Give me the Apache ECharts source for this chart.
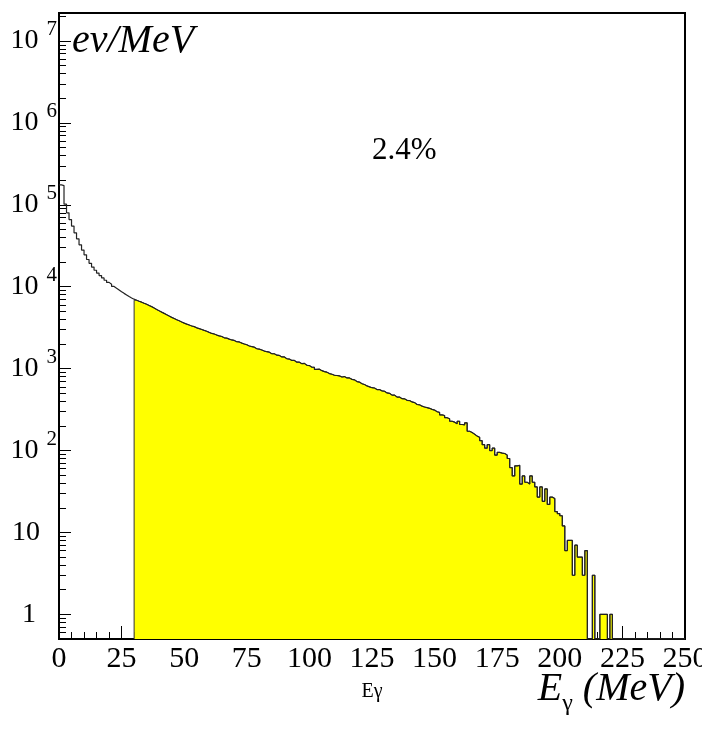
<!DOCTYPE html>
<html><head><meta charset="utf-8">
<script src="https://cdn.jsdelivr.net/npm/echarts@6/dist/echarts.min.js"></script>
<style>html,body{margin:0;padding:0;background:#fff;overflow:hidden}#c{width:702px;height:742px}</style>
</head><body><div id="c"></div>
<script>
// Histogram: counts per 1 MeV bin, bins 0..249 MeV (E_gamma)
const binEdgesStart = 0;
const binWidth = 1;
const counts = [
  175000,172000,102000,80000,66000,55000,45500,38500,32500,28000,   // 0-9
  24500,21500,19300,17400,15900,14700,13700,12800,12000,11300,      // 10-19
  10700,10100,9600,9150,8700,8300,7950,7600,7300,7050,              // 20-29
  6850,6650,6480,6280,6120,5900,5720,5500,5280,5080,                // 30-39
  4900,4730,4560,4390,4230,4100,3960,3840,3710,3600,                // 40-49
  3500,3410,3320,3260,3150,3080,3010,2930,2860,2770,                // 50-59
  2690,2650,2570,2510,2470,2380,2360,2290,2240,2210,                // 60-69
  2130,2120,2050,2000,1960,1890,1860,1830,1750,1730,                // 70-79
  1690,1640,1610,1590,1520,1520,1460,1450,1390,1390,                // 80-89
  1320,1310,1260,1260,1200,1200,1150,1160,1100,1090,                // 90-99
  1040,1040,980,985,945,920,905,870,855,830,                        // 100-109
  825,815,790,800,770,770,740,730,695,685,                          // 110-119
  655,640,615,600,585,580,555,555,535,530,                          // 120-129
  505,500,475,475,450,450,430,428,410,408,                          // 130-139
  392,385,365,362,348,340,334,328,318,312,                          // 140-149
  298,292,272,268,252,244,228,222,212,228,                          // 150-159
  208,206,218,172,166,158,150,145,132,118,                          // 160-169
  107,118,100,107,88,95,93,92,88,80,                                // 170-179
  62,49,65,66,39,49,41,39,49,41,                                    // 180-189
  36,27,36,24,34,22,27,26,18,17,                                    // 190-199
  16,12,6,8,8,3,7,5,5,3,                                            // 200-209
  6,0,0,3,0,0,1,1,1,0,                                              // 210-219
  1,0,0,0,0,0,0,0,0,0,                                              // 220-229
  0,0,0,0,0,0,0,0,0,0,                                              // 230-239
  0,0,0,0,0,0,0,0,0,0                                               // 240-249
];
const fillFrom = 30;            // MeV, shaded (yellow) region start
const xMin = 0, xMax = 250, xStep = 25;
const yMin = 0.5, yMax = 2.2e7;
const yMajorTicks = [1, 10, 100, 1000, 10000, 100000, 1000000, 10000000];
const yMinorMantissas = [2, 3, 4, 5, 6, 7, 8, 9];
const yAxisTitle = 'ev/MeV';
const xAxisName = 'E\u03b3';
const annotation = '2.4%';

// minor tick values of the log axis (2..9 x 10^n)
const yMinorTicks = [];
for (let e = -1; e <= 7; e++) {
  for (const m of yMinorMantissas) {
    const v = m * Math.pow(10, e);
    if (v > yMin && v < yMax) yMinorTicks.push(v);
  }
}

// histogram step points: left bin edges + closing right edge; empty bins drawn at frame bottom
const shown = v => (v > 0 ? v : yMin);
const outline = counts.map((v, i) => [binEdgesStart + i * binWidth, shown(v)]);
outline.push([binEdgesStart + counts.length * binWidth, shown(counts[counts.length - 1])]);
const fillPts = [[fillFrom, yMin]];
counts.forEach((v, i) => {
  const x = binEdgesStart + i * binWidth;
  if (x >= fillFrom) fillPts.push([x, shown(v)]);
});
fillPts.push([binEdgesStart + counts.length * binWidth, shown(counts[counts.length - 1])]);

const serifName = 'Liberation Serif';
const chart = echarts.init(document.getElementById('c'), null, {renderer: 'canvas'});
chart.setOption({
  animation: false,
  backgroundColor: '#fff',
  grid: {left: 59, top: 13, right: 17, bottom: 103, show: true, borderColor: '#000', borderWidth: 2,
         backgroundColor: '#fff', containLabel: false, outerBoundsMode: 'none'},
  xAxis: {
    type: 'value', min: xMin, max: xMax, interval: xStep,
    name: xAxisName, nameLocation: 'middle', nameGap: 43,
    nameTextStyle: {fontFamily: serifName, fontSize: 20, color: '#000'},
    axisLine: {show: true, onZero: false, lineStyle: {color: '#000', width: 2}},
    axisTick: {show: true, inside: true, length: 13, lineStyle: {color: '#000', width: 1}},
    minorTick: {show: true, splitNumber: 5, length: 7, lineStyle: {color: '#000', width: 1}},
    axisLabel: {fontFamily: serifName, fontSize: 30, color: '#000', margin: 5, showMaxLabel: true, showMinLabel: true, hideOverlap: false},
    splitLine: {show: false}
  },
  yAxis: [{
    type: 'log', logBase: 10, min: yMin, max: yMax,
    axisLine: {show: true, lineStyle: {color: '#000', width: 2}},
    axisTick: {show: true, inside: true, length: 12, lineStyle: {color: '#000', width: 1}},
    axisLabel: {
      customValues: yMajorTicks, margin: 2, color: '#000',
      formatter: v => {
        const n = Math.round(Math.log10(v));
        if (n === 0) return '{one|1}';
        if (n === 1) return '{ten|10}';
        return '{b|10}{e|' + n + '}';
      },
      rich: {
        b: {fontFamily: serifName, fontSize: 28, lineHeight: 30, padding: [7, 0, 7, 0], color: '#000'},
        e: {fontFamily: serifName, fontSize: 21, lineHeight: 21, padding: [0, 0, 23, 8], color: '#000'},
        ten: {fontFamily: serifName, fontSize: 28, lineHeight: 30, padding: [0, 17, 0, 0], color: '#000'},
        one: {fontFamily: serifName, fontSize: 28, lineHeight: 30, padding: [0, 21, 0, 0], color: '#000'}
      }
    },
    splitLine: {show: false}
  }, {
    // companion axis in log10 space carrying the minor ticks of the log axis
    type: 'value', min: Math.log10(yMin), max: Math.log10(yMax), position: 'left',
    axisLine: {show: false, onZero: false},
    axisTick: {show: true, inside: true, length: 7, customValues: yMinorTicks.map(v => Math.log10(v)), lineStyle: {color: '#000', width: 1}},
    axisLabel: {show: false},
    splitLine: {show: false}
  }],
  series: [{
    type: 'line', name: 'selected', data: fillPts, step: 'end', yAxisIndex: 0,
    showSymbol: false, symbol: 'none', silent: true, z: 2,
    lineStyle: {color: '#333', width: 1},
    areaStyle: {color: '#ffff00', opacity: 1, origin: 'start'}
  }, {
    type: 'line', name: 'all', data: outline, step: 'end', yAxisIndex: 0,
    showSymbol: false, symbol: 'none', silent: true, z: 3,
    lineStyle: {color: '#222', width: 1.2}
  }],
  graphic: [
    {type: 'text', left: 72, top: 21, z: 10, style: {text: yAxisTitle, fontFamily: serifName, fontStyle: 'italic', fontSize: 40, fill: '#000'}},
    {type: 'text', left: 372, top: 135, z: 10, style: {text: annotation, fontFamily: serifName, fontSize: 31, fill: '#000'}},
    {type: 'text', right: 17, top: 662, z: 10, style: {
      text: '{a|E}{s|\u03b3}{a| (MeV)}',
      rich: {
        a: {fontFamily: serifName, fontStyle: 'italic', fontSize: 40, fill: '#000', lineHeight: 40},
        s: {fontFamily: serifName, fontSize: 24, fill: '#000', lineHeight: 24, padding: [30, 0, 0, 0]}
      }
    }}
  ]
});
</script>
</body></html>
